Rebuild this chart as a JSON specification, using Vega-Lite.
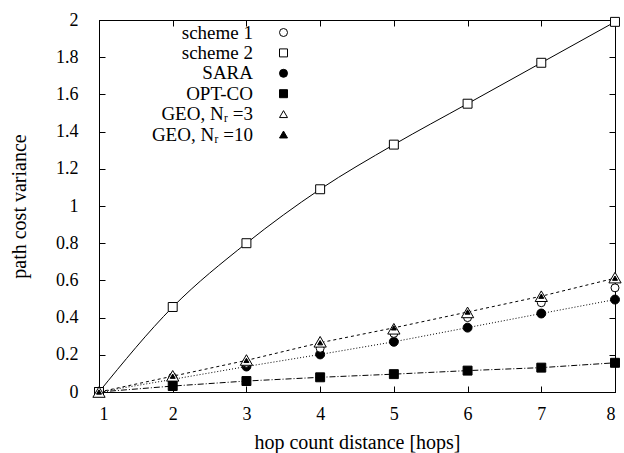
{
  "$schema": "https://vega.github.io/schema/vega-lite/v6.json",
  "width": 516,
  "height": 372,
  "autosize": "none",
  "padding": {"left": 99, "top": 20, "right": 9, "bottom": 61},
  "config": {
    "font": "Liberation Serif",
    "view": {"stroke": "black", "strokeWidth": 1},
    "axis": {
      "grid": false,
      "domainColor": "black",
      "tickColor": "black",
      "labelColor": "black",
      "titleColor": "black",
      "labelFont": "Liberation Serif",
      "titleFont": "Liberation Serif",
      "labelFontSize": 18,
      "titleFontSize": 20,
      "titleFontWeight": "normal",
      "tickSize": -6,
      "domainWidth": 1,
      "tickWidth": 1
    }
  },
  "data": {
    "values": [
      {"x": 1, "v": 0, "s": "OPT-CO"},
      {"x": 2, "v": 0.032, "s": "OPT-CO"},
      {"x": 3, "v": 0.059, "s": "OPT-CO"},
      {"x": 4, "v": 0.079, "s": "OPT-CO"},
      {"x": 5, "v": 0.096, "s": "OPT-CO"},
      {"x": 6, "v": 0.115, "s": "OPT-CO"},
      {"x": 7, "v": 0.131, "s": "OPT-CO"},
      {"x": 8, "v": 0.157, "s": "OPT-CO"},
      {"x": 1, "v": 0, "s": "SARA"},
      {"x": 2, "v": 0.068, "s": "SARA"},
      {"x": 3, "v": 0.137, "s": "SARA"},
      {"x": 4, "v": 0.202, "s": "SARA"},
      {"x": 5, "v": 0.27, "s": "SARA"},
      {"x": 6, "v": 0.346, "s": "SARA"},
      {"x": 7, "v": 0.422, "s": "SARA"},
      {"x": 8, "v": 0.497, "s": "SARA"},
      {"x": 1, "v": 0, "s": "scheme 1"},
      {"x": 2, "v": 0.08, "s": "scheme 1"},
      {"x": 3, "v": 0.155, "s": "scheme 1"},
      {"x": 4, "v": 0.235, "s": "scheme 1"},
      {"x": 5, "v": 0.315, "s": "scheme 1"},
      {"x": 6, "v": 0.4, "s": "scheme 1"},
      {"x": 7, "v": 0.48, "s": "scheme 1"},
      {"x": 8, "v": 0.56, "s": "scheme 1"},
      {"x": 1, "v": 0, "s": "scheme 2"},
      {"x": 2, "v": 0.457, "s": "scheme 2"},
      {"x": 3, "v": 0.8, "s": "scheme 2"},
      {"x": 4, "v": 1.09, "s": "scheme 2"},
      {"x": 5, "v": 1.33, "s": "scheme 2"},
      {"x": 6, "v": 1.55, "s": "scheme 2"},
      {"x": 7, "v": 1.77, "s": "scheme 2"},
      {"x": 8, "v": 1.99, "s": "scheme 2"},
      {"x": 1, "v": 0, "s": "GEO, Nᵣ =3"},
      {"x": 2, "v": 0.087, "s": "GEO, Nᵣ =3"},
      {"x": 3, "v": 0.172, "s": "GEO, Nᵣ =3"},
      {"x": 4, "v": 0.27, "s": "GEO, Nᵣ =3"},
      {"x": 5, "v": 0.34, "s": "GEO, Nᵣ =3"},
      {"x": 6, "v": 0.428, "s": "GEO, Nᵣ =3"},
      {"x": 7, "v": 0.515, "s": "GEO, Nᵣ =3"},
      {"x": 8, "v": 0.615, "s": "GEO, Nᵣ =3"},
      {"x": 1, "v": 0, "s": "GEO, Nᵣ =10"},
      {"x": 2, "v": 0.085, "s": "GEO, Nᵣ =10"},
      {"x": 3, "v": 0.17, "s": "GEO, Nᵣ =10"},
      {"x": 4, "v": 0.265, "s": "GEO, Nᵣ =10"},
      {"x": 5, "v": 0.345, "s": "GEO, Nᵣ =10"},
      {"x": 6, "v": 0.43, "s": "GEO, Nᵣ =10"},
      {"x": 7, "v": 0.515, "s": "GEO, Nᵣ =10"},
      {"x": 8, "v": 0.612, "s": "GEO, Nᵣ =10"}
    ]
  },
  "layer": [
    {
      "transform": [{"filter": "datum.s === 'scheme 2'"}],
      "mark": {"type": "line", "interpolate": "monotone", "color": "black", "strokeWidth": 1},
      "encoding": {
        "x": {"field": "x", "type": "quantitative", "scale": {"domain": [1, 8], "nice": false},
          "axis": {"orient": "bottom", "values": [1, 2, 3, 4, 5, 6, 7, 8], "title": "hop count distance [hops]", "labelPadding": 19, "titlePadding": 9}},
        "y": {"field": "v", "type": "quantitative", "scale": {"domain": [0, 2], "nice": false},
          "axis": {"orient": "left", "values": [0, 0.2, 0.4, 0.6, 0.8, 1, 1.2, 1.4, 1.6, 1.8, 2], "format": ".1~f", "title": "path cost variance", "labelPadding": 27, "titlePadding": 26}}
      }
    },
    {
      "transform": [{"filter": "datum.s === 'SARA' || datum.s === 'OPT-CO' || datum.s === 'GEO, Nᵣ =10'"}],
      "mark": {"type": "line", "color": "black", "strokeWidth": 1},
      "encoding": {
        "x": {"field": "x", "type": "quantitative", "scale": {"domain": [1, 8], "nice": false},
          "axis": {"orient": "top", "values": [1, 2, 3, 4, 5, 6, 7, 8], "labels": false, "title": null}},
        "y": {"field": "v", "type": "quantitative", "scale": {"domain": [0, 2], "nice": false},
          "axis": {"orient": "right", "values": [0, 0.2, 0.4, 0.6, 0.8, 1, 1.2, 1.4, 1.6, 1.8, 2], "labels": false, "title": null}},
        "strokeDash": {"field": "s", "type": "nominal",
          "scale": {"domain": ["SARA", "OPT-CO", "GEO, Nᵣ =10"], "range": [[1, 2], [6, 2, 1, 2], [3, 3]]},
          "legend": null}
      }
    },
    {
      "mark": {"type": "point", "filled": true, "stroke": "black", "strokeWidth": 1, "opacity": 1},
      "encoding": {
        "x": {"field": "x", "type": "quantitative", "axis": null},
        "y": {"field": "v", "type": "quantitative", "axis": null},
        "fill": {"field": "s", "type": "nominal",
          "scale": {"domain": ["scheme 1", "scheme 2", "SARA", "OPT-CO", "GEO, Nᵣ =3", "GEO, Nᵣ =10"],
            "range": ["white", "white", "black", "black", "white", "black"]},
          "legend": null},
        "shape": {"field": "s", "type": "nominal",
          "scale": {"domain": ["scheme 1", "scheme 2", "SARA", "OPT-CO", "GEO, Nᵣ =3", "GEO, Nᵣ =10"],
            "range": ["circle", "square", "circle", "square", "triangle-up", "triangle-up"]},
          "legend": {
            "orient": "none",
            "legendX": 175,
            "legendY": 3,
            "title": null,
            "padding": 0,
            "symbolSize": 64,
            "symbolStrokeWidth": 1,
            "labelAlign": "right",
            "labelOffset": -40,
            "labelFont": "Liberation Serif",
            "labelFontSize": 19,
            "labelColor": "black",
            "labelLimit": 0,
            "rowPadding": 0.4,
            "labelExpr": "datum.label + (indexof(datum.label, 'scheme') === 0 ? '      ' : indexof(datum.label, 'GEO') === 0 ? '   ' : '')"
          }},
        "size": {
          "condition": [
            {"test": "datum.s === 'GEO, Nᵣ =10'", "value": 25},
            {"test": "datum.s === 'GEO, Nᵣ =3'", "value": 150},
            {"test": "datum.s === 'scheme 1'", "value": 64}
          ],
          "value": 80
        }
      }
    }
  ],
  "resolve": {"axis": {"x": "independent", "y": "independent"}}
}
